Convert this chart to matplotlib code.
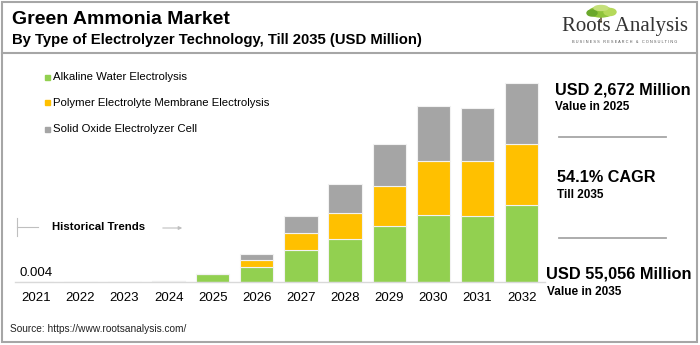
import matplotlib.pyplot as plt
from matplotlib.patches import Ellipse, Rectangle
import numpy as np

plt.rcParams['font.family'] = ['Liberation Sans', 'DejaVu Sans']

years = ['2021', '2022', '2023', '2024', '2025', '2026',
         '2027', '2028', '2029', '2030', '2031', '2032']
# USD million by electrolyzer type
alkaline = [0.004, 0.01, 0.05, 430, 2672, 5110, 10690, 14260, 18700, 22380, 22150, 25820]
pem = [0, 0, 0, 0, 0, 2140, 5680, 8880, 13460, 18140, 18270, 20370]
soec = [0, 0, 0, 0, 0, 2100, 5780, 9490, 13930, 18170, 17700, 20170]
series_names = ['Alkaline Water Electrolysis',
                'Polymer Electrolyte Membrane Electrolysis',
                'Solid Oxide Electrolyzer Cell']
colors = ['#92D050', '#FFC000', '#A5A5A5']

W, H = 700, 345
fig = plt.figure(figsize=(7, 3.45), dpi=100)

def fx(px):
    return px / W

def fy(py):
    return 1 - py / H

# main bar axes, placed in pixel terms
ax = fig.add_axes([fx(15), fy(282), fx(530), (282 - 60) / H])
x = np.arange(len(years))
bottom = np.zeros(len(years))
for vals, c in zip([alkaline, pem, soec], colors):
    ax.bar(x, vals, width=0.755, bottom=bottom, color=c, edgecolor='#f2f2f2', linewidth=0.8)
    bottom += np.array(vals)
ax.set_xlim(-0.48, 11.53)
ax.set_ylim(0, 222 * 334)
for s in ['top', 'right', 'left']:
    ax.spines[s].set_visible(False)
ax.spines['bottom'].set_color('#d9d9d9')
ax.spines['bottom'].set_linewidth(1)
ax.set_yticks([])
ax.set_xticks(x)
ax.set_xticklabels(years, fontsize=9.5)
ax.tick_params(axis='x', length=0, pad=7)
ax.patch.set_alpha(0)
ax.text(x[0], alkaline[0] + 1000, f'{alkaline[0]}', ha='center', va='bottom', fontsize=9.5)

# frame and header separator
fig.patches.append(Rectangle((fx(2), fy(342)), fx(695), 340 / H, transform=fig.transFigure,
                             fill=False, edgecolor='#a6a6a6', linewidth=1.5))
fig.add_artist(plt.Line2D([fx(2), fx(697)], [fy(53), fy(53)], color='#a6a6a6', linewidth=1.5))

fig.text(fx(12), fy(19), 'Green Ammonia Market', fontsize=14, fontweight='bold', va='center')
fig.text(fx(12), fy(40), 'By Type of Electrolyzer Technology, Till 2035 (USD Million)',
         fontsize=10.7, fontweight='bold', va='center')

# logo
fig.text(fx(625), fy(27), 'Roots Analysis', family='Liberation Serif', fontsize=15,
         ha='center', va='center', color='#333333')
fig.text(fx(625), fy(42), 'B U S I N E S S   R E S E A R C H   &   C O N S U L T I N G',
         fontsize=2.8, ha='center', va='center', color='#555555')
for (cx, cy, w, h, c) in [(601, 12, 24, 10, '#8fc33a'), (592, 13, 10, 6, '#6aa82c'),
                          (610, 12, 12, 7, '#b5d95a'), (601, 8, 14, 5, '#c5e07a')]:
    fig.patches.append(Ellipse((fx(cx), fy(cy)), fx(w), h / H, transform=fig.transFigure,
                               color=c, zorder=3))
fig.add_artist(plt.Line2D([fx(601), fx(601)], [fy(15), fy(22)], color='#6b5a3a', linewidth=1.2))

# legend
for i, (name, c) in enumerate(zip(series_names, colors)):
    yy = 77 + i * 26
    fig.patches.append(Rectangle((fx(45), fy(yy + 2.5)), fx(5), 5 / H, transform=fig.transFigure,
                                 color=c))
    fig.text(fx(53), fy(yy), name, fontsize=8.2, va='center')

# historical trends marker
fig.add_artist(plt.Line2D([fx(17), fx(17)], [fy(218), fy(236)], color='#bfbfbf', linewidth=0.8))
fig.add_artist(plt.Line2D([fx(17), fx(38)], [fy(227), fy(227)], color='#bfbfbf', linewidth=0.8))
fig.text(fx(52), fy(227), 'Historical Trends', fontsize=8.2, fontweight='bold', va='center')
ax.annotate('', xy=(fx(185), fy(228)), xytext=(fx(160), fy(228)), xycoords='figure fraction',
            arrowprops=dict(arrowstyle='-|>', color='#bfbfbf', lw=0.8, mutation_scale=5))

# key figures on the right
fig.text(fx(555), fy(90), 'USD 2,672 Million', fontsize=11.7, fontweight='bold', va='center')
fig.text(fx(555), fy(107), 'Value in 2025', fontsize=8.5, fontweight='bold', va='center')
fig.add_artist(plt.Line2D([fx(559), fx(666)], [fy(137), fy(137)], color='#a6a6a6', linewidth=1.3))
fig.text(fx(557), fy(178), '54.1% CAGR', fontsize=11.7, fontweight='bold', va='center')
fig.text(fx(557), fy(195), 'Till 2035', fontsize=8.5, fontweight='bold', va='center')
fig.add_artist(plt.Line2D([fx(559), fx(666)], [fy(238), fy(238)], color='#a6a6a6', linewidth=1.3))
fig.text(fx(546), fy(274), 'USD 55,056 Million', fontsize=11.8, fontweight='bold', va='center')
fig.text(fx(547), fy(292), 'Value in 2035', fontsize=8.5, fontweight='bold', va='center')

fig.text(fx(10), fy(329), 'Source: https://www.rootsanalysis.com/', fontsize=7.3, va='center',
         color='#222222')

fig.savefig('out.png', dpi=100)
